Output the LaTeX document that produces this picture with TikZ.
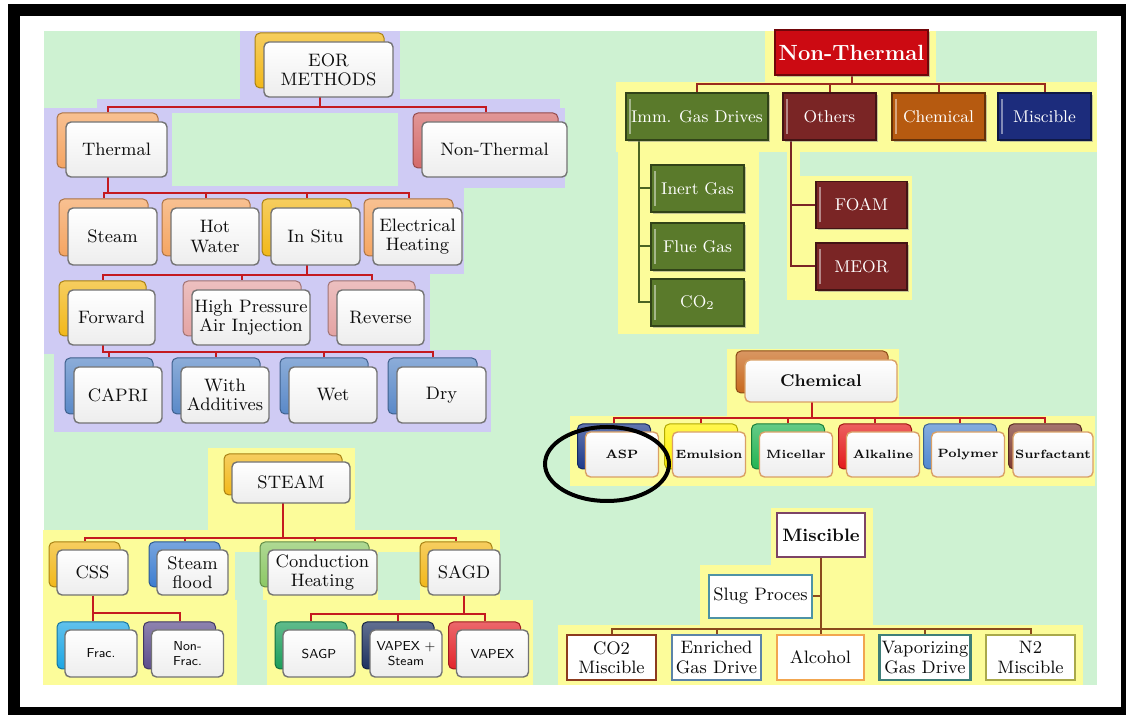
\documentclass[tikz,border=0pt]{standalone}
\usetikzlibrary{shadows}
\definecolor{mintBg}{HTML}{CEF2D2}
\definecolor{lavBg}{HTML}{CFCBF4}
\definecolor{haloBg}{HTML}{FCFC9A}
\definecolor{goldA}{HTML}{F2B81A}
\definecolor{apricot}{HTML}{F5A562}
\definecolor{salmonA}{HTML}{D46A6A}
\definecolor{rose}{HTML}{E4A4A4}
\definecolor{steelA}{HTML}{5A89C8}
\definecolor{ntRed}{HTML}{CC0A12}
\definecolor{oliveA}{HTML}{5A7A2B}
\definecolor{maroonA}{HTML}{7A2525}
\definecolor{rustA}{HTML}{B65A10}
\definecolor{navyA}{HTML}{1C2C7C}
\definecolor{rustB}{HTML}{C8691E}
\definecolor{tanE}{HTML}{D9A066}
\definecolor{aspBlue}{HTML}{1E3A8C}
\definecolor{emulY}{HTML}{FFF200}
\definecolor{micG}{HTML}{22B452}
\definecolor{alkR}{HTML}{E41A1A}
\definecolor{polyB}{HTML}{5088D0}
\definecolor{surfBr}{HTML}{7E3A30}
\definecolor{blueS}{HTML}{3C7DD0}
\definecolor{greenL}{HTML}{8CC865}
\definecolor{cyanF}{HTML}{1CA6E4}
\definecolor{purpleF}{HTML}{5C4D8C}
\definecolor{greenS}{HTML}{1B9E5A}
\definecolor{navyV}{HTML}{1D3160}
\definecolor{redV}{HTML}{E3252B}
\definecolor{plumM}{HTML}{7D4466}
\definecolor{tealM}{HTML}{4E93A6}
\definecolor{brownM}{HTML}{8C3B1E}
\definecolor{steelM}{HTML}{5C84A8}
\definecolor{orangeM}{HTML}{F2A650}
\definecolor{tealD}{HTML}{3F7F78}
\definecolor{oliveM}{HTML}{A9A94A}
\definecolor{wireRed}{HTML}{C41A20}
\definecolor{wireBrown}{HTML}{9A2B1E}
\definecolor{wireOlive}{HTML}{4B6422}
\definecolor{wireMis}{HTML}{8A4A1C}
\pgfdeclarelayer{halo}
\pgfdeclarelayer{wires}
\pgfsetlayers{halo,wires,main}
\begin{document}
\begin{tikzpicture}
[x=0.5pt,y=-0.5pt,%
  backDecorate/.style={rounded corners=2.5pt,draw=#1!70!black,line width=.5pt,top color=#1!70!white,bottom color=#1},%
  frontDecorate/.style={rounded corners=2.5pt,draw=black!55,line width=.7pt,top color=white,bottom color=black!7,text=black!95,align=center,inner sep=1pt,font=\fontsize{9}{9.6}\selectfont},%
  bevelDecorate/.style={fill=#1,draw=#1!55!black,line width=.8pt,text=white,align=center,inner sep=1pt,font=\fontsize{8.5}{9}\selectfont,drop shadow={shadow xshift=.8pt,shadow yshift=-.8pt,fill=black!45}},%
  bevelLine/.style={path picture={\draw[#1!55!white,line width=.7pt] ([xshift=2pt,yshift=3pt]path picture bounding box.south west) -- ([xshift=2pt,yshift=-3pt]path picture bounding box.north west);}},%
  plainDecorate/.style={fill=white,draw=#1,line width=1.1pt,text=black!95,align=center,inner sep=1pt,font=\fontsize{9}{9.6}\selectfont},%
  wireDecorate/.style={draw=#1,line width=1pt}]
\useasboundingbox (0,0) rectangle (1126,715);
%% frame, background and halos
\begin{pgfonlayer}{halo}
\fill[black] (8,4) rectangle (1126,715);
\fill[white] (20,16) rectangle (1121,707);
\fill[mintBg] (44,31) rectangle (1097,685);
\foreach \a/\b/\c/\d in {240/31/400/100, 97/99/560/113, 44/108/172/192, 398/108/565/188,
  44/186/464/274, 44/272/430/354, 54/350/491/432}
  \fill[lavBg] (\a,\b) rectangle (\c,\d);
\foreach \a/\b/\c/\d in {765/31/936/85, 616/82/1097/152, 618/150/759/334, 787/150/800/178,
  787/176/912/300, 727/349/899/420, 570/416/1095/486, 208/448/355/530, 43/530/500/552,
  43/550/235/602, 263/548/378/600, 420/548/500/617, 43/600/237/685, 267/600/533/685,
  771/508/873/568, 700/565/873/630, 558/625/1083/685}
  \fill[haloBg] (\a,\b) rectangle (\c,\d);
\end{pgfonlayer}
%% EOR methods tree
\foreach \n/\x/\y/\w/\h/\c/\t in {eor/328.5/69.5/129/55/goldA/{EOR\\METHODS},
  thermal/116.5/149.5/101/55/apricot/Thermal,
  nonth/494.5/149.5/145/55/salmonA/Non-Thermal,
  steam/112.5/236.5/89/57/apricot/Steam,
  hotwater/215/236.5/88/57/apricot/{Hot\\Water},
  insitu/315.5/236.5/89/57/goldA/In Situ,
  elec/417.5/236.5/89/57/apricot/{Electrical\\Heating},
  forward/111.5/317.5/87/55/goldA/Forward,
  hpai/251/317.5/118/55/rose/{High Pressure\\Air Injection},
  reverse/380.5/317.5/87/55/rose/Reverse,
  capri/118/395/88/56/steelA/CAPRI,
  additives/225/395/88/56/steelA/{With\\Additives},
  wet/333/395/88/56/steelA/Wet,
  dry/441.5/395/89/56/steelA/Dry}
{
  \node[backDecorate=\c,minimum width=\w*.5pt,minimum height=\h*.5pt] (\n-b) at (\x-9,\y-9) {};
  \node[frontDecorate,minimum width=\w*.5pt,minimum height=\h*.5pt] (\n) at (\x,\y) {\t};
}
%% non-thermal tree
\node[bevelDecorate=ntRed,minimum width=76.5pt,minimum height=22.5pt,font=\bfseries\fontsize{11}{12}\selectfont] (nthead) at (851.5,52.5) {Non-Thermal};
\foreach \n/\x/\y/\w/\c/\t in {imm/697/116.5/142/oliveA/Imm. Gas Drives,
  others/829.5/116.5/93/maroonA/Others, chem/938.5/116.5/93/rustA/Chemical,
  misc/1044.5/116.5/93/navyA/Miscible, inert/697.5/188.5/93/oliveA/Inert Gas,
  flue/697.5/246.5/93/oliveA/Flue Gas, co2/697.5/302.5/93/oliveA/CO$_2$,
  foam/861.5/205/91/maroonA/FOAM, meor/861.5/266.5/91/maroonA/MEOR}
  \node[bevelDecorate=\c,bevelLine=\c,minimum width=\w*.5pt,minimum height=23.5pt] (\n) at (\x,\y) {\t};
%% chemical tree
\node[backDecorate=rustB,minimum width=76pt,minimum height=21pt] (chemhead-b) at (812,372) {};
\node[frontDecorate,draw=tanE,minimum width=76pt,minimum height=21pt,font=\bfseries\fontsize{8.5}{9}\selectfont] (chemhead) at (821,381) {Chemical};
\foreach \n/\x/\c/\t in {asp/622/aspBlue/ASP, emul/709/emulY/Emulsion, mic/796/micG/Micellar,
  alk/883/alkR/Alkaline, poly/968/polyB/Polymer, surf/1053/surfBr/Surfactant}
{
  \node[backDecorate=\c,minimum width=36.5pt,minimum height=22.5pt] (\n-b) at (\x-8,446.5) {};
  \node[frontDecorate,draw=tanE,minimum width=36.5pt,minimum height=22.5pt,font=\bfseries\fontsize{6}{7}\selectfont] (\n) at (\x,454.5) {\t};
}
\draw[line width=2pt] (607,464) ellipse [x radius=62,y radius=37];
%% steam tree
\foreach \n/\x/\y/\w/\h/\c/\t in {steamhead/291/482.5/118/41/goldA/STEAM,
  css/92.5/572.5/71/45/goldA/CSS, sflood/192.5/572.5/71/45/blueS/{Steam\\flood},
  cond/322.5/572.5/109/45/greenL/{Conduction\\Heating}, sagd/464/572.5/72/45/goldA/SAGD}
{
  \node[backDecorate=\c,minimum width=\w*.5pt,minimum height=\h*.5pt] (\n-b) at (\x-8,\y-8) {};
  \node[frontDecorate,minimum width=\w*.5pt,minimum height=\h*.5pt] (\n) at (\x,\y) {\t};
}
\foreach \n/\x/\c/\t in {frac/101/cyanF/Frac., nonfrac/187.5/purpleF/{Non-\\Frac.},
  sagp/319/greenS/SAGP, vapexs/406/navyV/{VAPEX +\\Steam}, vapex/492.5/redV/VAPEX}
{
  \node[backDecorate=\c,minimum width=36pt,minimum height=23.5pt] (\n-b) at (\x-8,645.5) {};
  \node[frontDecorate,minimum width=36pt,minimum height=23.5pt,font=\sffamily\fontsize{6.5}{7.5}\selectfont] (\n) at (\x,653.5) {\t};
}
%% miscible tree
\node[plainDecorate=plumM,minimum width=44pt,minimum height=22pt,font=\bfseries\fontsize{9}{10}\selectfont] (mischead) at (821,535) {Miscible};
\node[plainDecorate=tealM,minimum width=51.5pt,minimum height=21.5pt] (slug) at (760.5,596.5) {Slug Proces};
\foreach \n/\x/\w/\c/\t in {co2m/611.5/89/brownM/{CO2\\Miscible}, enriched/716.5/89/steelM/{Enriched\\Gas Drive},
  alcohol/820.5/87/orangeM/Alcohol, vapor/925/86/tealD/{Vaporizing\\Gas Drive}, n2m/1030.5/89/oliveM/{N2\\Miscible}}
  \node[plainDecorate=\c,minimum width=\w*.5pt,minimum height=22.5pt] (\n) at (\x,657.5) {\t};
%% connectors
\begin{pgfonlayer}{wires}
\foreach \k in {thermal,nonth}
  \draw[wireDecorate=wireRed] (eor-b.south) -- ++(0,19) -| (\k-b.north);
\foreach \k in {steam,hotwater,insitu,elec}
  \draw[wireDecorate=wireRed] (thermal-b.south) -- ++(0,25) -| (\k-b.north);
\foreach \k in {forward,hpai,reverse}
  \draw[wireDecorate=wireRed] (insitu-b.south) -- ++(0,19) -| (\k-b.north);
\foreach \k in {capri,additives,wet,dry}
  \draw[wireDecorate=wireRed] (forward-b.south) -- ++(0,16) -| (\k-b.north);
\foreach \k in {imm,others,chem,misc}
  \draw[wireDecorate=wireBrown] (nthead.south) -- ++(0,8) -| (\k.north);
\foreach \k in {inert,flue,co2}
  \draw[wireDecorate=wireOlive] ([xshift=7pt]imm.south west) |- (\k.west);
\foreach \k in {foam,meor}
  \draw[wireDecorate=maroonA] ([xshift=4.5pt]others.south west) |- (\k.west);
\foreach \k in {asp,emul,mic,alk,poly,surf}
  \draw[wireDecorate=wireRed] (chemhead-b.south) -- ++(0,25) -| (\k-b.north);
\foreach \k in {css,sflood,cond,sagd}
  \draw[wireDecorate=wireRed] (steamhead-b.south) -- ++(0,43) -| (\k-b.north);
\foreach \k in {frac,nonfrac}
  \draw[wireDecorate=wireRed] (css.south) -- ++(0,17) -| (\k-b.north);
\foreach \k in {sagp,vapexs,vapex}
  \draw[wireDecorate=wireRed] (sagd.south) -- ++(0,18) -| (\k-b.north);
\foreach \k in {co2m,enriched,alcohol,vapor,n2m}
  \draw[wireDecorate=wireMis] (mischead.south) -- ++(0,71) -| (\k.north);
\draw[wireDecorate=wireMis] (slug.east) -- (slug.east -| mischead.south);
\end{pgfonlayer}
\end{tikzpicture}
\end{document}
